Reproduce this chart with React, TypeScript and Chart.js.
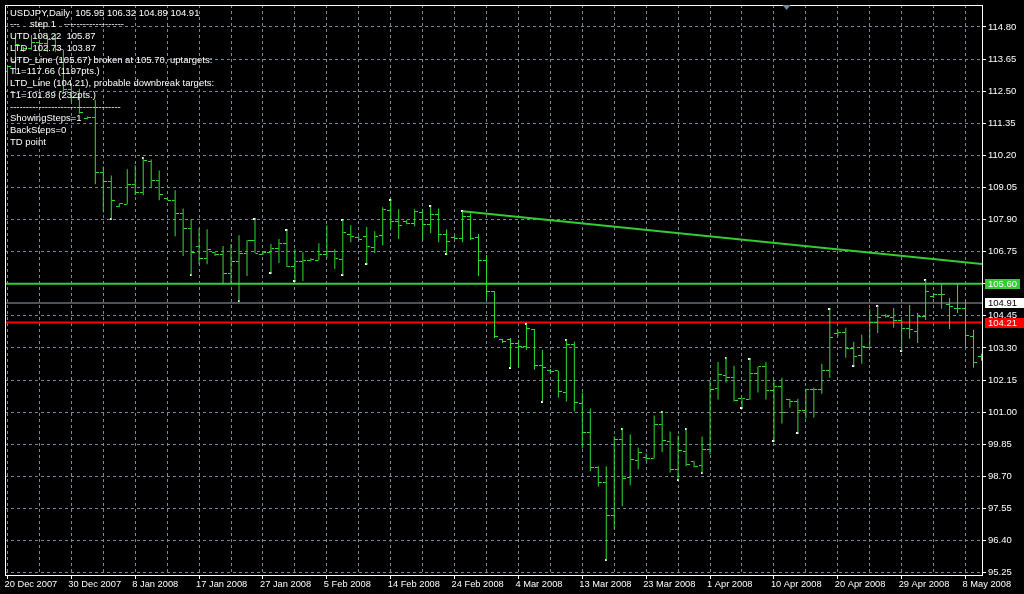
import React, { useEffect, useRef } from "react";
import { Chart, registerables } from "chart.js";

Chart.register(...registerables);

// ---------------- data ----------------
const xTickLabels = [
  "20 Dec 2007", "30 Dec 2007", "8 Jan 2008", "17 Jan 2008", "27 Jan 2008", "5 Feb 2008",
  "14 Feb 2008", "24 Feb 2008", "4 Mar 2008", "13 Mar 2008", "23 Mar 2008", "1 Apr 2008",
  "10 Apr 2008", "20 Apr 2008", "29 Apr 2008", "8 May 2008",
];
const BARS_PER_LABEL = 8;
const BARS_PER_GRID = 4;

const yTickValues = [
  95.25, 96.4, 97.55, 98.7, 99.85, 101.0, 102.15, 103.3, 104.45, 105.6,
  106.75, 107.9, 109.05, 110.2, 111.35, 112.5, 113.65, 114.8,
];

const opens = [
  113.19, 113.55, 113.94, 114.01, 114.26, 114.19, 114.34, 113.98, 112.55, 112.27,
  111.52, 111.55, 109.59, 109.27, 108.37, 108.45, 109.16, 108.87, 109.98, 109.30,
  108.66, 108.59, 108.12, 107.59, 106.95, 106.52, 106.73, 106.66, 105.95, 106.41,
  106.70, 107.16, 106.66, 106.73, 106.88, 107.05, 106.23, 106.41, 106.45, 106.45,
  106.66, 106.77, 106.48, 107.38, 107.27, 107.30, 106.91, 107.34, 108.23, 107.84,
  107.84, 107.77, 108.16, 107.73, 108.09, 107.38, 107.27, 107.23, 108.02, 107.27,
  106.45, 105.34, 103.59, 103.59, 103.45, 103.34, 103.95, 102.66, 102.48, 102.48,
  101.70, 103.41, 101.31, 100.27, 99.02, 98.49, 97.31, 100.02, 98.66, 99.27,
  99.38, 99.34, 100.56, 99.95, 98.95, 99.59, 99.24, 99.09, 99.66, 101.84,
  102.30, 102.23, 101.48, 101.45, 102.38, 102.63, 101.77, 101.91, 101.45, 101.38,
  101.06, 101.81, 101.81, 102.48, 103.80, 103.84, 103.27, 103.02, 103.30, 104.20,
  104.48, 104.38, 104.30, 103.98, 103.88, 104.41, 105.16, 105.20, 104.84, 104.70,
  104.70, 103.70, 102.98,
];
const highs = [
  113.44, 114.44, 114.09, 114.51, 114.34, 114.51, 114.55, 113.98, 112.69, 112.59,
  111.59, 112.19, 109.80, 109.48, 108.48, 109.70, 109.84, 110.12, 110.05, 109.66,
  108.66, 108.95, 108.30, 107.91, 107.59, 107.55, 106.73, 106.95, 107.02, 107.34,
  107.16, 107.91, 106.73, 107.02, 107.20, 107.52, 106.84, 106.73, 106.52, 107.05,
  107.70, 106.84, 107.88, 107.70, 107.30, 107.63, 107.48, 108.34, 108.59, 108.27,
  107.88, 108.27, 108.23, 108.37, 108.30, 107.55, 107.34, 108.20, 108.12, 107.38,
  106.63, 105.34, 103.63, 103.66, 103.59, 104.16, 103.98, 103.23, 102.55, 102.48,
  103.59, 103.52, 101.70, 101.13, 99.06, 99.06, 100.13, 100.41, 100.20, 99.73,
  99.52, 100.88, 101.02, 100.31, 100.16, 100.38, 99.24, 100.13, 102.13, 102.80,
  102.95, 102.66, 101.48, 102.91, 102.63, 102.80, 102.13, 102.23, 101.48, 101.48,
  101.84, 101.88, 102.73, 104.70, 103.95, 104.02, 103.52, 103.77, 104.70, 104.80,
  104.52, 104.73, 104.30, 104.84, 104.55, 105.73, 105.27, 105.59, 105.09, 105.59,
  104.95, 103.95, 103.09,
];
const lows = [
  112.76, 113.12, 113.91, 113.98, 113.91, 113.91, 113.91, 112.41, 112.12, 111.69,
  111.48, 109.16, 108.16, 107.91, 108.34, 108.45, 108.77, 108.77, 109.05, 108.59,
  108.59, 107.30, 106.59, 105.91, 106.30, 106.30, 106.59, 105.59, 105.59, 104.98,
  105.88, 106.70, 106.63, 105.98, 106.34, 106.20, 105.70, 105.70, 106.41, 106.45,
  106.52, 106.13, 105.91, 107.09, 107.16, 106.30, 106.70, 106.98, 107.59, 107.20,
  107.73, 107.66, 107.16, 107.41, 107.09, 106.66, 107.20, 107.09, 107.16, 105.88,
  105.05, 103.66, 103.48, 102.59, 102.59, 103.23, 102.52, 101.38, 102.38, 101.52,
  101.38, 101.02, 99.70, 98.88, 98.34, 95.70, 96.81, 97.63, 98.38, 98.95,
  99.24, 99.34, 99.56, 98.84, 98.56, 99.06, 99.02, 98.81, 99.49, 101.45,
  102.06, 101.38, 101.16, 101.45, 101.70, 101.45, 99.98, 100.59, 101.16, 100.27,
  100.77, 100.81, 101.66, 102.23, 103.73, 102.95, 102.66, 102.73, 103.30, 103.84,
  104.38, 104.02, 103.20, 103.63, 103.48, 104.30, 105.09, 104.70, 103.98, 104.55,
  103.30, 102.59, 102.84,
];
const closes = [
  113.37, 114.16, 114.01, 114.26, 114.19, 114.34, 113.98, 112.55, 112.27, 111.73,
  111.55, 109.59, 109.27, 108.59, 108.48, 109.16, 108.87, 110.02, 109.30, 108.80,
  108.59, 108.12, 107.59, 106.73, 106.52, 106.84, 106.63, 105.95, 106.41, 106.70,
  107.16, 106.70, 106.73, 106.88, 107.05, 106.20, 106.41, 106.45, 106.48, 106.66,
  106.77, 106.52, 107.45, 107.30, 107.20, 106.95, 107.30, 108.27, 107.84, 107.70,
  107.77, 108.20, 107.73, 108.09, 107.38, 107.13, 107.23, 108.02, 107.23, 106.45,
  105.34, 103.70, 103.52, 103.45, 103.34, 103.98, 102.66, 102.59, 102.45, 101.73,
  103.41, 101.34, 100.27, 99.02, 98.49, 97.31, 100.02, 98.63, 99.31, 99.56,
  99.34, 100.56, 99.98, 98.95, 99.63, 99.13, 99.06, 99.66, 101.81, 102.34,
  102.23, 101.41, 101.48, 102.38, 102.63, 101.77, 101.91, 100.98, 101.38, 101.06,
  101.81, 101.81, 102.48, 103.66, 103.84, 103.27, 102.98, 103.34, 104.20, 104.38,
  104.41, 104.30, 103.98, 103.95, 104.41, 105.34, 105.20, 105.20, 104.80, 104.70,
  103.73, 102.77, 103.05,
];

const tdHighBars = [17, 31, 35, 42, 48, 53, 57, 65, 70, 77, 82, 85, 90, 93, 103, 109, 115];
const tdLowBars = [13, 23, 29, 33, 36, 42, 45, 55, 63, 67, 75, 84, 87, 92, 96, 99, 106, 112];

const trendBars = [57, 123];
const trendPrices = [108.2, 106.28];

const utdLevel = 105.6;
const bidLevel = 104.91;
const ltdLevel = 104.21;

const infoLines = [
  "USDJPY,Daily  105.95 106.32 104.89 104.91",
  "---    step 1   -------------------",
  "UTD 108.22  105.87",
  "LTD  102.73  103.87",
  "UTD_Line (105.67) broken at 105.70, uptargets:",
  "T1=117.66 (1197pts.)",
  "LTD_Line (104.21), probable downbreak targets:",
  "T1=101.89 (232pts.)",
  "-----------------------------------",
  "ShowingSteps=1",
  "BackSteps=0",
  "TD point",
];

// axis ranges
const X_MIN = -0.3125;
const X_MAX = 122.0625;
const Y_MIN = 95.166;
const Y_MAX = 115.586;

// ---------------- styles ----------------
const FONT = '"Liberation Sans", Arial, sans-serif';
const BAR_COLOR = "#32dc32";
const LINE_GREEN = "#33cc33";
const GRID = "#778899";

function tickImage(from: number, color: string) {
  const c = document.createElement("canvas");
  c.width = 7;
  c.height = 1;
  const g = c.getContext("2d")!;
  g.fillStyle = color;
  g.fillRect(from, 0, 3, 1);
  return c;
}
function dotImage() {
  const c = document.createElement("canvas");
  c.width = 3;
  c.height = 2;
  const g = c.getContext("2d")!;
  g.fillStyle = "#ffffff";
  g.fillRect(0, 0, 2, 2);
  return c;
}

export default function App() {
  const ref = useRef<HTMLCanvasElement>(null);

  useEffect(() => {
    const canvas = ref.current!;
    const openImg = tickImage(0, BAR_COLOR);
    const closeImg = tickImage(4, BAR_COLOR);
    const dot = dotImage();

    const levelStyles = [
      { value: utdLevel, bg: LINE_GREEN, fg: "#ffffff", w: 35 },
      { value: bidLevel, bg: "#ffffff", fg: "#000000", w: 39 },
      { value: ltdLevel, bg: "#ff0000", fg: "#ffffff", w: 39 },
    ];

    const overlay = {
      id: "overlay",
      beforeDraw(chart: any) {
        const { ctx, width, height } = chart;
        ctx.save();
        ctx.fillStyle = "#000";
        ctx.fillRect(0, 0, width, height);
        ctx.restore();
      },
      afterDraw(chart: any) {
        const { ctx, chartArea: a, scales } = chart;
        ctx.save();
        // frame
        ctx.strokeStyle = "#ffffff";
        ctx.lineWidth = 1;
        ctx.strokeRect(a.left + 0.5, a.top + 0.5, a.right - a.left, a.bottom - a.top);

        // shift marker triangle
        const tx = a.left + 0.8 * (a.right - a.left);
        ctx.fillStyle = GRID;
        ctx.beginPath();
        ctx.moveTo(tx - 4, a.top);
        ctx.lineTo(tx + 4, a.top);
        ctx.lineTo(tx, a.top + 5);
        ctx.closePath();
        ctx.fill();

        // price labels at right
        ctx.font = `9.5px ${FONT}`;
        ctx.textAlign = "left";
        ctx.textBaseline = "middle";
        levelStyles.forEach((s) => {
          const py = Math.round(scales.y.getPixelForValue(s.value));
          ctx.fillStyle = s.bg;
          ctx.fillRect(a.right + 3, py - 5, s.w, 10);
          ctx.fillStyle = s.fg;
          ctx.fillText(s.value.toFixed(2), a.right + 6, py + 0.5);
        });

        // info text
        ctx.fillStyle = "#ffffff";
        ctx.font = `9.5px ${FONT}`;
        infoLines.forEach((t, k) => {
          ctx.fillText(t, a.left + 5, a.top + 8 + k * 11.75);
        });
        ctx.restore();
      },
    };

    const hLine = (level: number, color: string, width: number) => ({
      type: "line" as const,
      data: [
        { x: X_MIN, y: level },
        { x: X_MAX, y: level },
      ],
      borderColor: color,
      borderWidth: width,
      pointRadius: 0,
    });

    const chart = new Chart(canvas, {
      type: "bar",
      data: {
        datasets: [
          {
            type: "bar",
            data: highs.map((h, i) => ({ x: i, y: [lows[i], h] })) as any,
            backgroundColor: BAR_COLOR,
            barThickness: 1,
            borderWidth: 0,
            inflateAmount: 0,
            grouped: false,
          } as any,
          {
            type: "line",
            data: opens.map((o, i) => ({ x: i, y: o })),
            showLine: false,
            pointStyle: openImg as any,
            pointRadius: 3,
          },
          {
            type: "line",
            data: closes.map((c, i) => ({ x: i, y: c })),
            showLine: false,
            pointStyle: closeImg as any,
            pointRadius: 3,
          },
          {
            type: "line",
            data: tdHighBars.map((i) => ({ x: i, y: highs[i] })),
            showLine: false,
            pointStyle: dot as any,
            pointRadius: 2,
          },
          {
            type: "line",
            data: tdLowBars.map((i) => ({ x: i, y: lows[i] })),
            showLine: false,
            pointStyle: dot as any,
            pointRadius: 2,
          },
          {
            type: "line",
            data: trendBars.map((b, i) => ({ x: b, y: trendPrices[i] })),
            borderColor: LINE_GREEN,
            borderWidth: 2,
            pointRadius: 0,
          },
          hLine(utdLevel, LINE_GREEN, 2),
          hLine(bidLevel, "#98a2ad", 1),
          hLine(ltdLevel, "#ff0000", 2),
        ] as any,
      },
      options: {
        responsive: false,
        devicePixelRatio: 1,
        animation: false,
        events: [],
        layout: { padding: { left: 3, top: 3, right: 0, bottom: 0 } },
        plugins: {
          legend: { display: false },
          tooltip: { enabled: false },
        },
        scales: {
          x: {
            type: "linear",
            position: "bottom",
            offset: false,
            min: X_MIN,
            max: X_MAX,
            afterBuildTicks: (s: any) => {
              const t = [];
              for (let v = 0; v <= (xTickLabels.length - 1) * BARS_PER_LABEL; v += BARS_PER_GRID) t.push({ value: v });
              s.ticks = t;
            },
            afterFit: (s: any) => {
              s.height = 19;
              s.paddingLeft = 0;
              s.paddingRight = 0;
            },
            grid: {
              offset: false,
              color: GRID,
              lineWidth: 1,
              drawTicks: true,
              tickLength: 4,
              tickWidth: 1,
              tickBorderDash: [],
              tickColor: (c: any) =>
                c.tick && c.tick.value % BARS_PER_LABEL === 0 ? "#ffffff" : "rgba(0,0,0,0)",
            },
            border: { display: false, dash: [3, 3] },
            ticks: {
              autoSkip: false,
              maxRotation: 0,
              minRotation: 0,
              align: "start",
              color: "#ffffff",
              padding: 0,
              labelOffset: -3,
              font: { family: FONT, size: 9.3 },
              callback: (v: any) =>
                v % BARS_PER_LABEL === 0 ? xTickLabels[v / BARS_PER_LABEL] ?? "" : "",
            },
          },
          y: {
            type: "linear",
            position: "right",
            min: Y_MIN,
            max: Y_MAX,
            afterBuildTicks: (s: any) => {
              s.ticks = yTickValues.map((v) => ({ value: v }));
            },
            afterFit: (s: any) => {
              s.width = 42;
              s.paddingTop = 0;
              s.paddingBottom = 0;
            },
            grid: {
              color: GRID,
              lineWidth: 1,
              drawTicks: true,
              tickLength: 4,
              tickWidth: 1,
              tickBorderDash: [],
              tickColor: "#ffffff",
            },
            border: { display: false, dash: [3, 3] },
            ticks: {
              color: "#ffffff",
              padding: 2,
              font: { family: FONT, size: 9.5 },
              callback: (v: any) => Number(v).toFixed(2),
            },
          },
        },
      } as any,
      plugins: [overlay],
    });

    return () => chart.destroy();
  }, []);

  return (
    <div style={{ position: "absolute", left: 0, top: 0, width: 1024, height: 594, background: "#000" }}>
      <canvas ref={ref} width={1024} height={594} style={{ display: "block", width: 1024, height: 594 }} />
    </div>
  );
}
